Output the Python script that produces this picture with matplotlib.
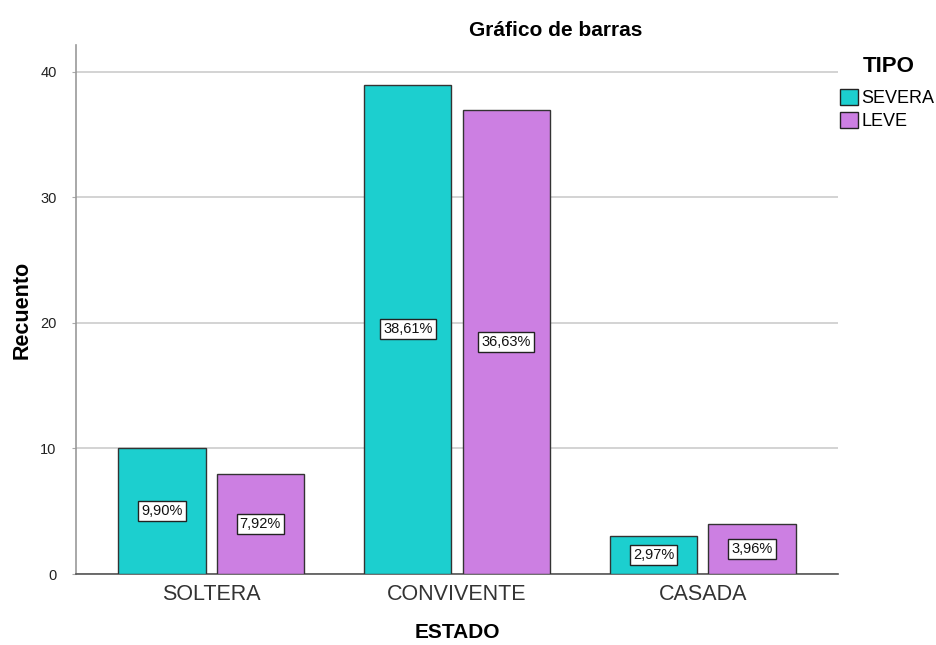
import matplotlib
matplotlib.use("Agg")
import matplotlib.pyplot as plt
from matplotlib.patches import Patch
import numpy as np

categories = ["SOLTERA", "CONVIVENTE", "CASADA"]
severa = [10, 39, 3]
leve = [8, 37, 4]
severa_pct = ["9,90%", "38,61%", "2,97%"]
leve_pct = ["7,92%", "36,63%", "3,96%"]
yticks = [0, 10, 20, 30, 40]

c_sev = "#1ccfcf"
c_lev = "#cc7fe2"

plt.rcParams['font.family'] = ['Liberation Sans', 'DejaVu Sans']

fig = plt.figure(figsize=(9.36, 6.45), dpi=100)
ax = fig.add_axes([76/936, 71/645, (838-76)/936, (574-45)/645])

x = np.arange(len(categories))
w = 0.355
off = 0.2
b1 = ax.bar(x - off, severa, w, color=c_sev, edgecolor="#333333", linewidth=1.0, zorder=3)
b2 = ax.bar(x + off, leve, w, color=c_lev, edgecolor="#333333", linewidth=1.0, zorder=3)

for bars, labels in ((b1, severa_pct), (b2, leve_pct)):
    for r, lab in zip(bars, labels):
        ax.text(r.get_x() + r.get_width()/2, r.get_height()/2, lab, ha="center", va="center",
                fontsize=10.5, color="#111111", zorder=4,
                bbox=dict(boxstyle="square,pad=0.22", fc="white", ec="#222222", lw=1.0))

ax.set_xlim(-0.55, 2.55)
ax.set_ylim(0, 42.15)
ax.set_yticks(yticks)
ax.set_yticklabels([str(t) for t in yticks], fontsize=10.5, color="#222222")
ax.set_xticks(x)
ax.set_xticklabels(categories, fontsize=15.5, color="#333333")
ax.tick_params(axis="x", length=0, pad=7)
ax.tick_params(axis="y", length=3, color="#aaaaaa", pad=11)
ax.yaxis.grid(True, color="#cccccc", linewidth=1.2, zorder=0)
ax.set_axisbelow(True)
for s in ("top", "right"):
    ax.spines[s].set_visible(False)
ax.spines["left"].set_color("#999999")
ax.spines["left"].set_linewidth(1.2)
ax.spines["bottom"].set_color("#555555")
ax.spines["bottom"].set_linewidth(1.2)

ax.set_ylabel("Recuento", fontsize=15.5, fontweight="bold")
ax.yaxis.set_label_coords(-(76 - 33)/762, 0.5)
ax.set_xlabel("ESTADO", fontsize=15, fontweight="bold")
ax.xaxis.set_label_coords(0.5, -(623 - 574)/529)

fig.text(556/936, 1 - 30/645, "Gráfico de barras", ha="center", va="center",
         fontsize=15, fontweight="bold")

fig.text(863/936, 1 - 66/645, "TIPO", ha="left", va="center", fontsize=16, fontweight="bold")

handles = [Patch(facecolor=c_sev, edgecolor="#222222", label="SEVERA"),
           Patch(facecolor=c_lev, edgecolor="#222222", label="LEVE")]
leg = fig.legend(handles=handles, loc="upper left", bbox_to_anchor=(838/936, 1 - 87/645),
                 frameon=False, fontsize=13, handlelength=1.0, handleheight=1.0,
                 handletextpad=0.2, labelspacing=0.25, borderaxespad=0, borderpad=0.1)

fig.savefig("out.png", dpi=100)
